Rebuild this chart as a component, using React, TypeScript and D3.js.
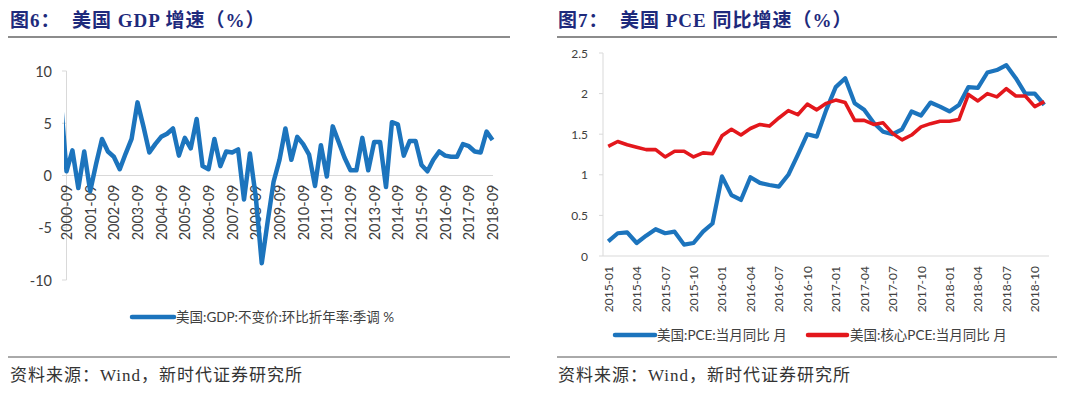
import React from "react";
import * as d3 from "d3";

// ---------- Data ----------
// Left chart: US real GDP, QoQ annualized, SA (%), quarterly 2000-06 .. 2018-09
const gdpStartYear = 2000;
const gdpStartMonth = 6;
const gdpValues = [
  7.5,
  0.4, 2.4,
  -1.2, 2.3, -1.5, 1.1,
  3.5, 2.3, 1.8, 0.6,
  2.1, 3.5, 7.0, 4.7,
  2.2, 3.0, 3.7, 4.0,
  4.5, 1.9, 3.6, 2.6,
  5.4, 0.9, 0.6, 3.5,
  0.9, 2.3, 2.2, 2.5,
  -2.3, 2.1, -2.1, -8.4,
  -4.4, -0.6, 1.5, 4.5,
  1.5, 3.7, 3.0, 2.0,
  -1.0, 2.9, -0.1, 4.7,
  3.2, 1.7, 0.5, 0.5,
  3.6, 0.5, 3.2, 3.2,
  -1.1, 5.1, 4.9, 1.9,
  3.3, 3.3, 1.0, 0.4,
  1.5, 2.3, 1.9, 1.8,
  1.8, 3.0, 2.8, 2.3,
  2.2, 4.2, 3.4,
];
const gdpYTicks = [-10, -5, 0, 5, 10];

// Right chart: US PCE YoY and core PCE YoY (%), monthly 2015-01 .. 2018-11
const pceStartYear = 2015;
const pceValues = [
  0.18, 0.28, 0.29, 0.16, 0.25, 0.33, 0.28, 0.3, 0.14, 0.16, 0.3, 0.4,
  0.98, 0.75, 0.69, 0.97, 0.9, 0.875, 0.855, 1.0, 1.245, 1.5, 1.47, 1.8,
  2.08, 2.19, 1.88, 1.8, 1.64, 1.53, 1.5, 1.56, 1.78, 1.73, 1.89, 1.84,
  1.78, 1.86, 2.08, 2.07, 2.26, 2.29, 2.35, 2.19, 2.0, 2.0, 1.86,
];
const corePceValues = [
  1.35, 1.41, 1.37, 1.34, 1.31, 1.31, 1.22, 1.29, 1.29, 1.22, 1.27, 1.26,
  1.48, 1.56, 1.49, 1.57, 1.62, 1.6, 1.7, 1.79, 1.74, 1.87, 1.8, 1.88,
  1.92, 1.89, 1.67, 1.67, 1.62, 1.64, 1.51, 1.43, 1.49, 1.59, 1.63, 1.66,
  1.66, 1.68, 1.99, 1.91, 2.0, 1.96, 2.06, 1.97, 1.97, 1.84, 1.9,
];
const pceYTicks = [0, 0.5, 1, 1.5, 2, 2.5];

const leftTitle = "图6：  美国 GDP 增速（%）";
const rightTitle = "图7：  美国 PCE 同比增速（%）";
const gdpLegend = "美国:GDP:不变价:环比折年率:季调 %";
const pceLegend = "美国:PCE:当月同比 月";
const coreLegend = "美国:核心PCE:当月同比 月";
const sourceText = "资料来源：Wind，新时代证券研究所";

// ---------- helpers ----------
const pad2 = (n: number) => (n < 10 ? "0" + n : "" + n);
const gdpLabels = gdpValues.map((_, i) => {
  const m = gdpStartMonth - 1 + i * 3;
  return `${gdpStartYear + Math.floor(m / 12)}-${pad2((m % 12) + 1)}`;
});
const pceLabels = pceValues.map((_, i) => `${pceStartYear + Math.floor(i / 12)}-${pad2((i % 12) + 1)}`);

const BLUE = "#1C74BD";
const RED = "#E3171C";
const NAVY = "#1E2A7C";
const AXIS = "#D9D9D9";
const TXT = "#404040";
const LATIN = "Lato, 'Open Sans', Arial, sans-serif";
const CJK = "Lato, 'Noto Sans CJK SC', sans-serif";
const TITLE_FONT = "'Liberation Serif', 'Times New Roman', 'Noto Sans CJK SC', serif";

export default function App() {
  // Left chart scales
  const xL = d3.scaleLinear().domain([1, gdpValues.length - 1]).range([66.5, 492.5]);
  const yL = d3.scaleLinear().domain([-10, 10]).range([280, 71]);
  const gdpLine = d3
    .line<number>()
    .x((_, i) => xL(i))
    .y((d) => yL(d));

  // Right chart scales
  const xR = d3.scaleBand<string>().domain(pceLabels).range([603.5, 1049]);
  const cx = (k: string) => (xR(k) as number) + xR.bandwidth() / 2;
  const yR = d3.scaleLinear().domain([0, 2.5]).range([256, 53]);
  const pceLine = d3
    .line<number>()
    .x((_, i) => cx(pceLabels[i]))
    .y((d) => yR(d));

  return (
    <svg width={1080} height={393} style={{ display: "block", position: "absolute", left: 0, top: 0, background: "#fff" }}>
      <defs>
        <clipPath id="clipL">
          <rect x={64} y={0} width={440} height={393} />
        </clipPath>
      </defs>
      <rect x={0} y={0} width={1080} height={393} fill="#fff" />

      {/* ===== Left panel ===== */}
      <text x={10} y={27} fontFamily={TITLE_FONT} fontWeight="bold" fontSize={19} letterSpacing={1} fill={NAVY} style={{ whiteSpace: "pre" }}>
        {leftTitle}
      </text>
      <line x1={8} x2={510} y1={37} y2={37} stroke="#8C8C8C" strokeWidth={2} />

      {/* y axis */}
      <line x1={66.5} x2={66.5} y1={yL(10)} y2={yL(-10)} stroke={AXIS} strokeWidth={1} />
      {gdpYTicks.map((t) => (
        <g key={t}>
          <line x1={62} x2={66.5} y1={yL(t)} y2={yL(t)} stroke={AXIS} />
          <text x={52} y={yL(t)} textAnchor="end" dominantBaseline="central" fontFamily={LATIN} fontSize={14.5} fill={TXT}>
            {t}
          </text>
        </g>
      ))}
      {/* zero line */}
      <line x1={66.5} x2={493} y1={yL(0)} y2={yL(0)} stroke={AXIS} strokeWidth={1.2} />
      {/* x labels */}
      {gdpLabels.map((lab, i) =>
        i >= 1 && (i - 1) % 4 === 0 ? (
          <text
            key={lab}
            transform={`translate(${xL(i)},${yL(0) + 9}) rotate(-90)`}
            textAnchor="end"
            dominantBaseline="central"
            fontFamily={LATIN}
            fontSize={14.5}
            fill={TXT}
          >
            {lab}
          </text>
        ) : null
      )}
      <path d={gdpLine(gdpValues) || ""} fill="none" stroke={BLUE} strokeWidth={4.5} strokeLinejoin="round" clipPath="url(#clipL)" />

      {/* legend */}
      <line x1={132} x2={174} y1={317} y2={317} stroke={BLUE} strokeWidth={4.5} strokeLinecap="round" />
      <text x={176} y={317} dominantBaseline="central" fontFamily={CJK} fontSize={13.5} fill={TXT}>
        {gdpLegend}
      </text>

      <line x1={8} x2={510} y1={357} y2={357} stroke="#555" strokeWidth={1} />
      <text x={10} y={381} fontFamily={TITLE_FONT} fontSize={17} letterSpacing={1} fill="#333">
        {sourceText}
      </text>

      {/* ===== Right panel ===== */}
      <text x={558} y={27} fontFamily={TITLE_FONT} fontWeight="bold" fontSize={19} letterSpacing={1} fill={NAVY} style={{ whiteSpace: "pre" }}>
        {rightTitle}
      </text>
      <line x1={557} x2={1057} y1={37} y2={37} stroke="#8C8C8C" strokeWidth={2} />

      <line x1={603} x2={603} y1={yR(2.5)} y2={yR(0)} stroke={AXIS} />
      {pceYTicks.map((t) => (
        <g key={t}>
          <line x1={599} x2={603} y1={yR(t)} y2={yR(t)} stroke={AXIS} />
          <text x={588} y={yR(t)} textAnchor="end" dominantBaseline="central" fontFamily={LATIN} fontSize={12} fill={TXT}>
            {t}
          </text>
        </g>
      ))}
      <line x1={603} x2={1049} y1={yR(0)} y2={yR(0)} stroke={AXIS} strokeWidth={1.2} />
      {pceLabels.map((lab, i) =>
        i % 3 === 0 ? (
          <text
            key={lab}
            transform={`translate(${cx(lab)},${yR(0) + 10}) rotate(-90)`}
            textAnchor="end"
            dominantBaseline="central"
            fontFamily={LATIN}
            fontSize={12}
            fill={TXT}
          >
            {lab}
          </text>
        ) : null
      )}
      <path d={pceLine(pceValues) || ""} fill="none" stroke={BLUE} strokeWidth={4.2} strokeLinejoin="round" />
      <path d={pceLine(corePceValues) || ""} fill="none" stroke={RED} strokeWidth={3.6} strokeLinejoin="round" />

      {/* legend */}
      <line x1={615} x2={655} y1={335} y2={335} stroke={BLUE} strokeWidth={4.5} strokeLinecap="round" />
      <text x={657} y={335} dominantBaseline="central" fontFamily={CJK} fontSize={13.5} fill={TXT}>
        {pceLegend}
      </text>
      <line x1={808} x2={847} y1={335} y2={335} stroke={RED} strokeWidth={4.5} strokeLinecap="round" />
      <text x={850} y={335} dominantBaseline="central" fontFamily={CJK} fontSize={13.5} fill={TXT}>
        {coreLegend}
      </text>

      <line x1={557} x2={1057} y1={357} y2={357} stroke="#555" strokeWidth={1} />
      <text x={558} y={381} fontFamily={TITLE_FONT} fontSize={17} letterSpacing={1} fill="#333">
        {sourceText}
      </text>
    </svg>
  );
}
